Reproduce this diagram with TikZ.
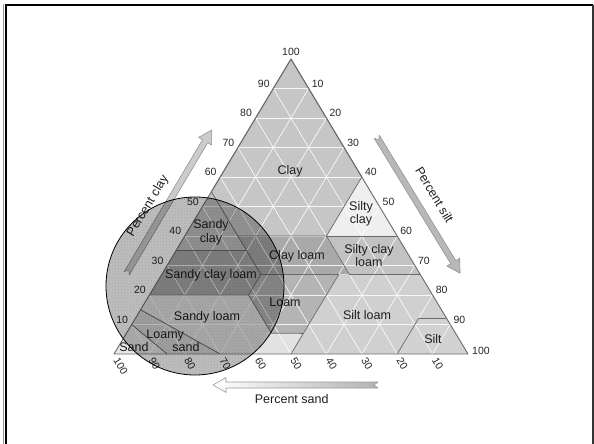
\documentclass[tikz,border=0pt]{standalone}
\usepackage{fontspec}
\setmainfont{Liberation Sans}
\usetikzlibrary{calc,patterns}
\definecolor{cClay}{HTML}{C6C6C6}
\definecolor{cSiltyClay}{HTML}{EFEFEF}
\definecolor{cSiltyClayLoam}{HTML}{C2C2C2}
\definecolor{cClayLoam}{HTML}{A9A9A9}
\definecolor{cSandyClay}{HTML}{C2C2C2}
\definecolor{cSandyClayLoam}{HTML}{A9A9A9}
\definecolor{cLoam}{HTML}{B4B4B4}
\definecolor{cSiltLoam}{HTML}{D0D0D0}
\definecolor{cSilt}{HTML}{D2D2D2}
\definecolor{cSandyLoam}{HTML}{E2E2E2}
\definecolor{cLoamySand}{HTML}{D6D6D6}
\definecolor{cSand}{HTML}{E6E6E6}
\newcommand\defpt[4]{\pgfmathsetmacro\ba{#2/100}\pgfmathsetmacro\bb{#3/100}\pgfmathsetmacro\bc{#4/100}\coordinate (#1) at (barycentric cs:A=\ba,B=\bb,C=\bc);}
\begin{document}
\begin{tikzpicture}[x=1pt,y=-1pt,
  tick/.style={font=\fontsize{10.5}{11}\selectfont, text=black!85, inner sep=0pt},
  region/.style={font=\fontsize{12.5}{13.5}\selectfont, text=black!88, align=center, inner sep=0pt},
  axislabel/.style={font=\fontsize{12.5}{13.5}\selectfont, text=black!88, inner sep=0pt},
  bnd/.style={draw=black!58, line width=0.8pt, line join=round},
  gridline/.style={draw=white, line width=0.7pt, opacity=0.85},
  fatarrow/.style={draw=black!42, line width=0.6pt, line join=round}
]
\useasboundingbox (0,0) rectangle (594,444);
% frame
\draw[black!40, line width=1pt] (3.5,446) -- (3.5,4);
\draw[black, line width=2pt] (6,446) -- (6,5) -- (592.5,5);
\draw[black!80, line width=2pt] (592.5,5) -- (592.5,446);

% triangle corners
\coordinate (A) at (114,354);
\coordinate (B) at (468,354);
\coordinate (C) at (291,59);
% (sand, silt, clay)
\defpt{s1}{85}{15}{0}
\defpt{s2}{90}{0}{10}
\defpt{ls1}{70}{30}{0}
\defpt{ls2}{85}{0}{15}
\defpt{sl1}{80}{0}{20}
\defpt{sl2}{52}{28}{20}
\defpt{sl3}{52}{41}{7}
\defpt{sl4}{43}{50}{7}
\defpt{sl5}{50}{50}{0}
\defpt{lo1}{45}{28}{27}
\defpt{lo2}{23}{50}{27}
\defpt{st1}{20}{80}{0}
\defpt{st2}{8}{80}{12}
\defpt{st3}{0}{88}{12}
\defpt{si1}{0}{73}{27}
\defpt{scl1}{65}{0}{35}
\defpt{scl2}{45}{20}{35}
\defpt{cl1}{45}{15}{40}
\defpt{cl2}{20}{40}{40}
\defpt{cl3}{20}{53}{27}
\defpt{sc1}{45}{0}{55}
\defpt{sic1}{0}{60}{40}
\defpt{sic2}{0}{40}{60}

% region fills
\fill[cClay] (sc1) -- (C) -- (sic2) -- (cl2) -- (cl1) -- cycle;
\fill[cSiltyClay] (cl2) -- (sic1) -- (sic2) -- cycle;
\fill[cSiltyClayLoam] (cl3) -- (cl2) -- (sic1) -- (si1) -- cycle;
\fill[cClayLoam] (lo1) -- (cl1) -- (cl2) -- (cl3) -- cycle;
\fill[cSandyClay] (scl1) -- (sc1) -- (scl2) -- cycle;
\fill[cSandyClayLoam] (sl1) -- (scl1) -- (scl2) -- (lo1) -- (sl2) -- cycle;
\fill[cLoam] (sl2) -- (lo1) -- (lo2) -- (sl4) -- (sl3) -- cycle;
\fill[cSiltLoam] (sl5) -- (lo2) -- (si1) -- (st3) -- (st2) -- (st1) -- cycle;
\fill[cSilt] (st1) -- (st2) -- (st3) -- (B) -- cycle;
\fill[cSandyLoam] (ls2) -- (sl1) -- (sl2) -- (sl3) -- (sl4) -- (sl5) -- (ls1) -- cycle;
\fill[cLoamySand] (s2) -- (ls2) -- (ls1) -- (s1) -- cycle;
\fill[cSand] (A) -- (s2) -- (s1) -- cycle;

% grid
\foreach \v [evaluate=\v as \p using \v/100, evaluate=\v as \q using (100-\v)/100] in {10,20,...,90} {
  \draw[gridline] (barycentric cs:A=\q,B=0,C=\p) -- (barycentric cs:A=0,B=\q,C=\p);
  \draw[gridline] (barycentric cs:A=\q,B=\p,C=0) -- (barycentric cs:A=0,B=\p,C=\q);
  \draw[gridline] (barycentric cs:A=\p,B=\q,C=0) -- (barycentric cs:A=\p,B=0,C=\q);
}

% boundaries
\draw[bnd] (sc1) -- (C) -- (sic2) -- (cl2) -- (cl1) -- cycle;
\draw[bnd] (cl2) -- (sic1);
\draw[bnd] (cl3) -- (si1);
\draw[bnd] (lo1) -- (cl1);
\draw[bnd] (cl2) -- (cl3);
\draw[bnd] (scl1) -- (scl2);
\draw[bnd] (sl1) -- (sl2) -- (lo1);
\draw[bnd] (lo1) -- (lo2);
\draw[bnd] (sl2) -- (sl3) -- (sl4);
\draw[bnd] (sl5) -- (lo2);
\draw[bnd] (st1) -- (st2) -- (st3);
\draw[bnd] (ls2) -- (ls1);
\draw[bnd] (s2) -- (s1);
\draw[bnd, line width=0.9pt] (A) -- (B) -- (C) -- cycle;

% tick labels
\node[tick, anchor=south] (lt100) at ($(C)+(0,-3)$) {100};
\foreach \v [evaluate=\v as \p using \v/100, evaluate=\v as \q using (100-\v)/100] in {10,20,...,90} {
  \node[tick, anchor=east] (lt\v) at ($(barycentric cs:A=\q,B=0,C=\p)+(-3.5,-5)$) {\v};
  \node[tick, anchor=west] (rt\v) at ($(barycentric cs:A=0,B=\p,C=\q)+(3,-5)$) {\v};
}
\node[tick, anchor=west] (rt100) at ($(B)+(4,-3)$) {100};
\foreach \v [evaluate=\v as \p using \v/100, evaluate=\v as \q using (100-\v)/100] in {10,20,...,100} {
  \node[tick, anchor=west, rotate=-59] (bt\v) at ($(barycentric cs:A=\p,B=\q,C=0)+(2,4.5)$) {\v};
}

% region labels
\node[region] (tClay) at (290,171) {Clay};
\node[region] (tSiltyClay) at (361,214) {Silty\\clay};
\node[region] (tSiltyClayLoam) at (369,255.5) {Silty clay\\loam};
\node[region] (tClayLoam) at (297,256) {Clay loam};
\node[region] (tLoam) at (285,302.5) {Loam};
\node[region] (tSiltLoam) at (367,315) {Silt loam};
\node[region] (tSilt) at (433,339) {Silt};
\node[region] (tSandyClay) at (211,232.5) {Sandy\\clay};
\node[region] (tSandyClayLoam) at (211,275) {Sandy clay loam};
\node[region] (tSandyLoam) at (207,317) {Sandy loam};
\node[region, align=left] (tLoamySand) at (173,341) {Loamy\\\hspace*{26pt}sand};
\node[region] (tSand) at (134,347) {Sand};

% axis arrows
\begin{scope}[shift={(126.7,273.3)}, rotate=59.3]
  \filldraw[fatarrow, fill=black!20] (0,-3) -- (153.6,-3) -- (153.6,-7.5) -- (166.6,0) -- (153.6,7.5) -- (153.6,3) -- (0,3) -- (4,0) -- cycle;
\end{scope}
\begin{scope}[shift={(376.7,136.7)}, rotate=-58.6]
  \filldraw[fatarrow, fill=black!28] (0,-3) -- (147,-3) -- (147,-7.5) -- (160,0) -- (147,7.5) -- (147,3) -- (0,3) -- (4,0) -- cycle;
\end{scope}
\shade[left color=white, right color=black!30, draw=black!40, line width=0.6pt, line join=round]
  (378,382) -- (226,382) -- (226,377.5) -- (213,385) -- (226,392.5) -- (226,388) -- (378,388) -- (374,385) -- cycle;

\node[axislabel, rotate=59] (pclay) at (148,206) {Percent clay};
\node[axislabel, rotate=-59] (psilt) at (434.5,195) {Percent silt};
\node[axislabel] (psand) at (291.7,399) {Percent sand};

% magnifying circle overlay
\fill[black, fill opacity=0.26] (195,286) circle (89pt);
\fill[pattern=crosshatch dots, pattern color=black, fill opacity=0.12] (195,286) circle (89pt);
\draw[black, line width=0.8pt] (195,286) circle (89pt);
\end{tikzpicture}
\end{document}
